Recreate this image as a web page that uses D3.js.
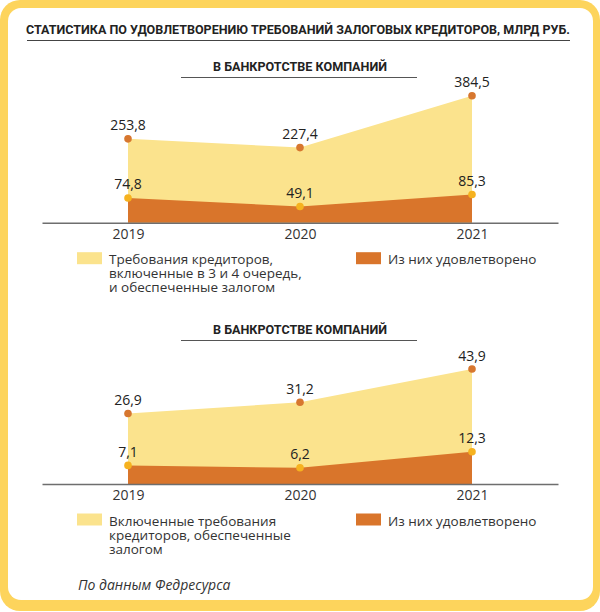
<!DOCTYPE html>
<html>
<head>
<meta charset="utf-8">
<script src="https://cdn.jsdelivr.net/npm/d3@7"></script>
<style>
  html, body { margin: 0; padding: 0; background: #fff; }
  svg { display: block; }
</style>
</head>
<body>
<svg id="chart" width="600" height="612"></svg>
<script>
// ---- data ----
const years = ["2019", "2020", "2021"];
const claims1 = [253.8, 227.4, 384.5];
const satisfied1 = [74.8, 49.1, 85.3];
const claims2 = [26.9, 31.2, 43.9];
const satisfied2 = [7.1, 6.2, 12.3];

const titleText = "СТАТИСТИКА ПО УДОВЛЕТВОРЕНИЮ ТРЕБОВАНИЙ ЗАЛОГОВЫХ КРЕДИТОРОВ, МЛРД РУБ.";
const subtitles = ["В БАНКРОТСТВЕ КОМПАНИЙ", "В БАНКРОТСТВЕ КОМПАНИЙ"];
const legend1 = [["Требования кредиторов,", "включенные в 3 и 4 очередь,", "и обеспеченные залогом"], ["Из них удовлетворено"]];
const legend2 = [["Включенные требования", "кредиторов, обеспеченные", "залогом"], ["Из них удовлетворено"]];
const sourceText = "По данным Федресурса";

// ---- styles ----
const C = {
  frame: "#fdd45c",
  lightArea: "#fbe38d",
  darkArea: "#d9752b",
  topDot: "#d7772f",
  botDot: "#f6b21f",
  axis: "#6e6e6e",
  text: "#222"
};

const svg = d3.select("#chart");
const fmt = v => String(v).replace(".", ",");

// frame
svg.append("rect").attr("x", 0).attr("y", 0).attr("width", 600).attr("height", 611)
  .attr("rx", 20).attr("fill", C.frame);
svg.append("rect").attr("x", 8).attr("y", 8).attr("width", 585).attr("height", 592)
  .attr("rx", 13).attr("fill", "#fff");

// title
svg.append("text").attr("x", 26).attr("y", 33.5)
  .attr("font-family", "Roboto, sans-serif").attr("font-weight", 700).attr("font-size", 12)
  .attr("fill", C.text)
  .attr("textLength", 544).attr("lengthAdjust", "spacingAndGlyphs")
  .text(titleText);
svg.append("line").attr("x1", 27).attr("x2", 570).attr("y1", 40.5).attr("y2", 40.5)
  .attr("stroke", "#444").attr("stroke-width", 1);

const x = d3.scalePoint().domain(years).range([42, 558]).padding(0.5);

function panel(cfg) {
  const g = svg.append("g");
  const y = d3.scaleLinear().domain([0, cfg.max]).range([cfg.base, cfg.top]);

  // subtitle
  g.append("text").attr("x", 300).attr("y", cfg.subY).attr("text-anchor", "middle")
    .attr("font-family", "Roboto, sans-serif").attr("font-weight", 700).attr("font-size", 12)
    .attr("fill", C.text).attr("textLength", 174).attr("lengthAdjust", "spacingAndGlyphs")
    .text(cfg.subtitle);
  g.append("line").attr("x1", 181).attr("x2", 417).attr("y1", cfg.subY + 6.5).attr("y2", cfg.subY + 6.5)
    .attr("stroke", "#555").attr("stroke-width", 1);

  const area = d3.area().x((d, i) => x(years[i])).y0(y(0)).y1(d => y(d));
  g.append("path").datum(cfg.claims).attr("d", area).attr("fill", C.lightArea);
  g.append("path").datum(cfg.satisfied).attr("d", area).attr("fill", C.darkArea);

  // axis
  const ax = g.append("g").attr("transform", `translate(0,${y(0)})`)
    .call(d3.axisBottom(x).tickSize(0).tickSizeOuter(0).tickPadding(6));
  ax.select(".domain").attr("stroke", C.axis).attr("stroke-width", 1.5);
  ax.selectAll("text").attr("font-family", "'Open Sans', sans-serif").attr("font-size", 14)
    .attr("fill", "#333");

  // dots + labels
  [[cfg.claims, C.topDot], [cfg.satisfied, C.botDot]].forEach(([vals, col]) => {
    g.selectAll(null).data(vals).enter().append("circle")
      .attr("cx", (d, i) => x(years[i])).attr("cy", d => y(d)).attr("r", 3.8)
      .attr("fill", col);
    g.selectAll(null).data(vals).enter().append("text")
      .attr("x", (d, i) => x(years[i])).attr("y", d => y(d) - 8.5)
      .attr("text-anchor", "middle")
      .attr("font-family", "'Open Sans', sans-serif").attr("font-size", 14)
      .attr("fill", C.text).text(fmt);
  });

  // legend
  const ly = y(0) + 29.5;
  const items = [[cfg.legend[0], C.lightArea, 77], [cfg.legend[1], C.darkArea, 356]];
  items.forEach(([lines, col, lx]) => {
    g.append("rect").attr("x", lx).attr("y", ly).attr("width", 25).attr("height", 12).attr("fill", col);
    lines.forEach((s, k) => {
      g.append("text").attr("x", lx + 32).attr("y", ly + 12 + k * 14)
        .attr("font-family", "'Open Sans', sans-serif").attr("font-size", 13.5).attr("fill", "#333")
        .text(s);
    });
  });
}

panel({ claims: claims1, satisfied: satisfied1, max: 384.5, base: 222.7, top: 95.7,
        subtitle: subtitles[0], subY: 71, legend: legend1 });
panel({ claims: claims2, satisfied: satisfied2, max: 43.9, base: 484, top: 369,
        subtitle: subtitles[1], subY: 334, legend: legend2 });

// source
svg.append("text").attr("x", 78).attr("y", 589.5)
  .attr("font-family", "'Open Sans', sans-serif").attr("font-style", "italic").attr("font-size", 14)
  .attr("fill", "#333").text(sourceText);
</script>
</body>
</html>
